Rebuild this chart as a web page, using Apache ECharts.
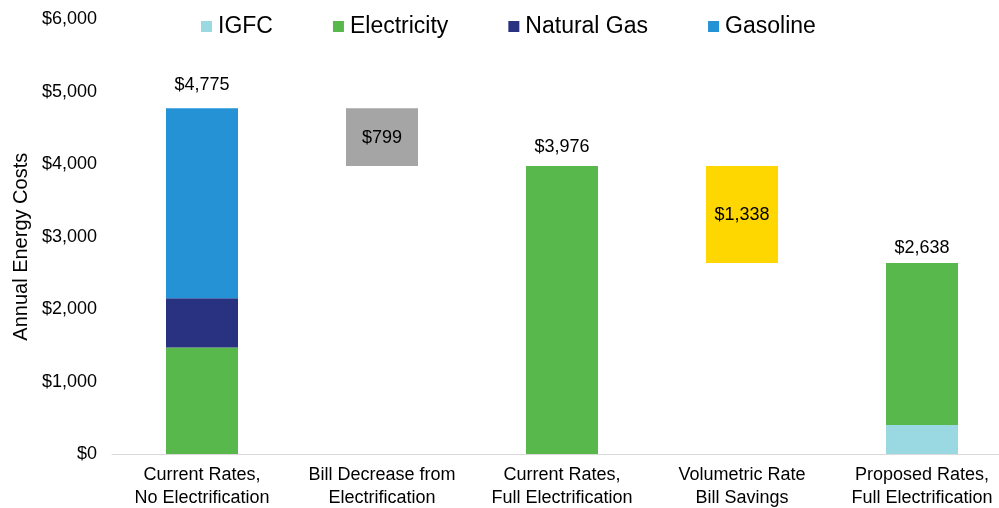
<!DOCTYPE html>
<html>
<head>
<meta charset="utf-8">
<script src="https://cdn.jsdelivr.net/npm/echarts@6/dist/echarts.min.js"></script>
<style>
html,body{margin:0;padding:0;background:#fff;}
#wrap{position:relative;width:999px;height:508px;overflow:hidden;}
#c{position:absolute;left:0;top:0;width:1012px;height:508px;}
</style>
</head>
<body>
<div id="wrap"><div id="c"></div></div>
<script>
const categories = ['Current Rates,\nNo Electrification', 'Bill Decrease from\nElectrification', 'Current Rates,\nFull Electrification', 'Volumetric Rate\nBill Savings', 'Proposed Rates,\nFull Electrification'];
const igfc = ['-', '-', '-', '-', 400];
const electricity = [1470, '-', 3976, '-', 2238];
const naturalGas = [680, '-', '-', '-', '-'];
const gasoline = [2625, '-', '-', '-', '-'];
const stepBase = ['-', 3976, '-', 2638, '-'];
const stepChange = ['-', 799, '-', 1338, '-'];
const totals = [4775, '-', 3976, '-', 2638];
const yTicks = [0, 1000, 2000, 3000, 4000, 5000, 6000];

// style only: label gap above each total bar
const totalLabelGap = [13.5, 0, 9.5, 0, 5];

const font = 'Liberation Sans, Arial, sans-serif';
const fmt = v => '$' + Number(v).toLocaleString('en-US');
const stepColors = ['#A5A5A5', '#A5A5A5', '#A5A5A5', '#FFD700', '#FFD700'];

const totalData = totals.map((v, i) => v === '-' ? '-' : { value: v, label: { distance: totalLabelGap[i] } });

const chart = echarts.init(document.getElementById('c'));
chart.setOption({
  animation: false,
  textStyle: { fontFamily: font },
  legend: {
    data: ['IGFC', 'Electricity', 'Natural Gas', 'Gasoline'],
    left: 196, top: 10,
    itemWidth: 11, itemHeight: 11, itemGap: 60,
    icon: 'rect',
    textStyle: { fontSize: 23, color: '#000', fontFamily: font, padding: [0, 0, 0, 1] }
  },
  grid: { left: 112, top: 19.5, right: 0, bottom: 54, containLabel: false, outerBoundsMode: 'none' },
  xAxis: {
    type: 'category', data: categories,
    axisLine: { lineStyle: { color: '#D9D9D9', width: 1 } },
    axisTick: { show: false },
    axisLabel: { fontSize: 18, color: '#000', lineHeight: 23, margin: 10, fontFamily: font, interval: 0 }
  },
  yAxis: {
    type: 'value', min: yTicks[0], max: yTicks[yTicks.length - 1], interval: 1000,
    name: 'Annual Energy Costs', nameLocation: 'middle', nameGap: 81,
    nameTextStyle: { fontSize: 20, color: '#000', fontFamily: font, padding: [0, 20, 0, 0] },
    axisLine: { show: false }, axisTick: { show: false },
    splitLine: { show: false },
    axisLabel: { fontSize: 18, color: '#000', margin: 15, fontFamily: font, formatter: fmt }
  },
  series: [
    { name: 'IGFC', type: 'bar', stack: 's', data: igfc, barWidth: 72, itemStyle: { color: '#9AD9E1' } },
    { name: 'Electricity', type: 'bar', stack: 's', data: electricity, itemStyle: { color: '#58B84B' } },
    { name: 'Natural Gas', type: 'bar', stack: 's', data: naturalGas, itemStyle: { color: '#283280' } },
    { name: 'Gasoline', type: 'bar', stack: 's', data: gasoline, itemStyle: { color: '#2592D5' } },
    { name: 'base', type: 'bar', stack: 's', data: stepBase, itemStyle: { color: 'rgba(0,0,0,0)' }, emphasis: { disabled: true } },
    { name: 'change', type: 'bar', stack: 's', data: stepChange,
      itemStyle: { color: p => stepColors[p.dataIndex] },
      label: { show: true, position: 'inside', offset: [0, 1], fontSize: 18, color: '#000', fontFamily: font, formatter: p => fmt(p.value) } },
    { name: 'total', type: 'line', data: totalData, symbol: 'circle', symbolSize: 1, showSymbol: true,
      itemStyle: { color: 'rgba(0,0,0,0)', borderWidth: 0 }, lineStyle: { width: 0, color: 'rgba(0,0,0,0)' }, silent: true,
      label: { show: true, position: 'top', distance: 12, fontSize: 18, color: '#000', fontFamily: font, formatter: p => fmt(p.value) } }
  ]
});
</script>
</body>
</html>
